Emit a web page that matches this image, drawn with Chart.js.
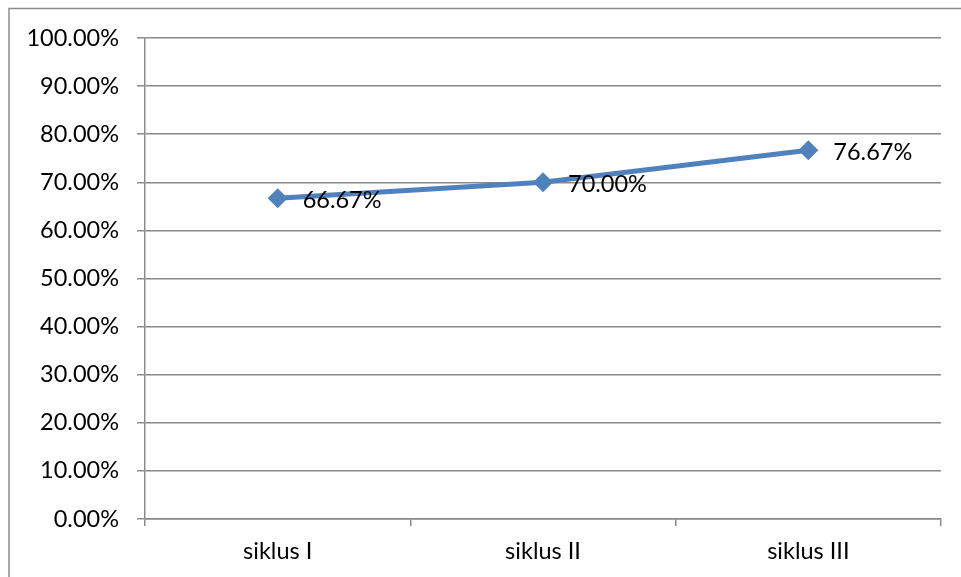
<!DOCTYPE html>
<html>
<head>
<meta charset="utf-8">
<script src="https://cdn.jsdelivr.net/npm/chart.js@4/dist/chart.umd.min.js"></script>
<style>
  html, body { margin: 0; padding: 0; background: #fff; }
  #wrap { width: 961px; height: 577px; position: relative; }
</style>
</head>
<body>
<div id="wrap"><canvas id="c" width="961" height="577"></canvas></div>
<script>
// Ketuntasan per siklus (persen)
const categories = ['siklus I', 'siklus II', 'siklus III'];
const values = [66.67, 70.00, 76.67];
const yTicks = [0, 10, 20, 30, 40, 50, 60, 70, 80, 90, 100];

const FONT = { family: 'Lato, "Open Sans", sans-serif', size: 23.5 };
const GRID = '#8a8a8a';

// Outer frame of the chart object
const framePlugin = {
  id: 'frame',
  beforeDraw(chart) {
    const ctx = chart.ctx;
    ctx.save();
    ctx.strokeStyle = '#8c8c8c';
    ctx.lineWidth = 1.5;
    ctx.beginPath();
    ctx.moveTo(9, 577);
    ctx.lineTo(9, 8.5);
    ctx.lineTo(961, 8.5);
    ctx.stroke();
    ctx.restore();
  }
};

// Value labels to the right of each point
const valueLabels = {
  id: 'valueLabels',
  afterDatasetsDraw(chart) {
    const ctx = chart.ctx;
    const meta = chart.getDatasetMeta(0);
    ctx.save();
    ctx.font = `${FONT.size}px ${FONT.family}`;
    ctx.fillStyle = '#000';
    ctx.textAlign = 'left';
    ctx.textBaseline = 'middle';
    meta.data.forEach((pt, i) => {
      ctx.fillText(values[i].toFixed(2) + '%', pt.x + 25, pt.y + 2);
    });
    ctx.restore();
  }
};

new Chart(document.getElementById('c'), {
  type: 'line',
  data: {
    labels: categories,
    datasets: [{
      data: values,
      borderColor: '#4F81BD',
      backgroundColor: '#4F81BD',
      borderWidth: 5,
      pointStyle: 'rectRot',
      pointRadius: 10,
      pointBorderWidth: 0,
      tension: 0,
      fill: false
    }]
  },
  options: {
    responsive: false,
    animation: false,
    layout: { padding: { left: 10, top: 38, right: 20, bottom: 0 } },
    plugins: { legend: { display: false }, tooltip: { enabled: false } },
    scales: {
      x: {
        type: 'category',
        offset: true,
        afterFit: s => { s.height = 58; },
        grid: {
          offset: true,
          drawOnChartArea: false,
          drawTicks: true,
          tickLength: 7,
          color: GRID,
          lineWidth: 1.5
        },
        border: { display: true, color: GRID, width: 1.5 },
        ticks: { font: FONT, color: '#000', padding: 11, maxRotation: 0 }
      },
      y: {
        min: 0,
        max: 100,
        afterFit: s => { s.width = 135; },
        afterBuildTicks: s => { s.ticks = yTicks.map(v => ({ value: v })); },
        grid: {
          color: GRID,
          lineWidth: 1.5,
          drawTicks: true,
          tickLength: 8
        },
        border: { display: true, color: GRID, width: 1.5 },
        ticks: {
          font: FONT,
          color: '#000',
          padding: 18,
          callback: v => Number(v).toFixed(2) + '%'
        }
      }
    }
  },
  plugins: [framePlugin, valueLabels]
});
</script>
</body>
</html>
